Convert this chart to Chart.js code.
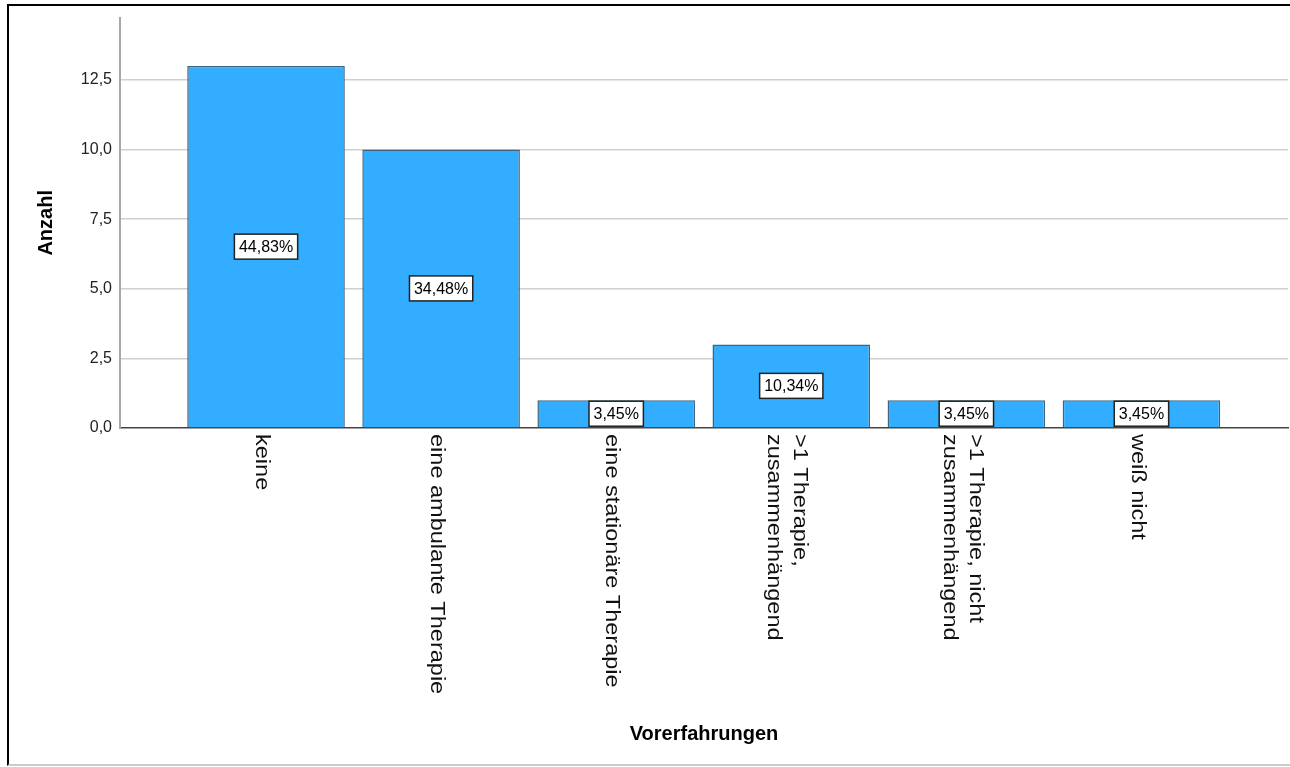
<!DOCTYPE html>
<html>
<head>
<meta charset="utf-8">
<script src="https://cdn.jsdelivr.net/npm/chart.js@4.4.1/dist/chart.umd.min.js"></script>
<style>
  html, body { margin: 0; padding: 0; background: #fff; }
  #frame {
    position: absolute; left: 7px; top: 4px; width: 1290px; height: 758px;
    border-left: 2px solid #000; border-top: 2px solid #000; border-bottom: 2px solid #ccc;
  }
  #wrap { position: absolute; left: 0; top: 0; width: 1290px; height: 767px; }
</style>
</head>
<body>
<div id="frame"></div>
<div id="wrap"><canvas id="chart" width="1290" height="767"></canvas></div>
<script>
// Data
const categories = [
    ['keine'],
    ['eine ambulante Therapie'],
    ['eine stationäre Therapie'],
    ['>1 Therapie,', 'zusammenhängend'],
    ['>1 Therapie, nicht', 'zusammenhängend'],
    ['weiß nicht']
];
const counts = [13, 10, 1, 3, 1, 1];
const percentLabels = ['44,83%', '34,48%', '3,45%', '10,34%', '3,45%', '3,45%'];
const yTicks = [0, 2.5, 5, 7.5, 10, 12.5];

const fontFamily = '"Liberation Sans", Arial, sans-serif';
const barColor = '#33adff';
const barBorder = '#3d6580';

// category labels, rotated clockwise and hanging below the axis
const xLabelPlugin = {
    id: 'xLabels',
    afterDraw(chart) {
        const { ctx, chartArea } = chart;
        const xScale = chart.scales.x;
        ctx.save();
        ctx.font = '21px ' + fontFamily;
        ctx.fillStyle = '#111';
        ctx.textAlign = 'left';
        ctx.textBaseline = 'middle';
        categories.forEach((lines, i) => {
            const px = xScale.getPixelForValue(i);
            ctx.save();
            ctx.translate(px - 4, chartArea.bottom + 6);
            ctx.rotate(Math.PI / 2);
            ctx.scale(1.12, 1); // the original text is a little wider
            lines.forEach((line, j) => {
                ctx.fillText(line, 0, (j - (lines.length - 1) / 2) * 26);
            });
            ctx.restore();
        });
        ctx.restore();
    }
};

// percentage boxes in the middle of each bar
const boxLabelPlugin = {
    id: 'boxLabels',
    afterDatasetsDraw(chart) {
        const { ctx } = chart;
        const bars = chart.getDatasetMeta(0).data;
        ctx.save();
        ctx.font = '16px ' + fontFamily;
        ctx.textAlign = 'center';
        ctx.textBaseline = 'middle';
        bars.forEach((bar, i) => {
            const text = percentLabels[i];
            const cy = (bar.y + bar.base) / 2;
            const w = ctx.measureText(text).width + 9;
            const h = 25;
            ctx.fillStyle = '#fff';
            ctx.fillRect(bar.x - w / 2, cy - h / 2, w, h);
            ctx.lineWidth = 1.5;
            ctx.strokeStyle = '#222';
            ctx.strokeRect(bar.x - w / 2, cy - h / 2, w, h);
            ctx.fillStyle = '#000';
            ctx.fillText(text, bar.x, cy + 1);
        });
        ctx.restore();
    }
};

new Chart(document.getElementById('chart'), {
    type: 'bar',
    data: {
        datasets: [{
            label: 'Anzahl',
            data: counts.map((v, i) => ({ x: i, y: v })),
            backgroundColor: barColor,
            borderColor: barBorder,
            borderWidth: 1.5,
            barPercentage: 0.9,
            categoryPercentage: 1
        }]
    },
    options: {
        responsive: false,
        devicePixelRatio: 1,
        animation: false,
        layout: { padding: { top: 13, right: 2, left: 0, bottom: 0 } },
        plugins: {
            legend: { display: false },
            tooltip: { enabled: false }
        },
        scales: {
            x: {
                type: 'linear',
                offset: false,
                min: -0.834,
                max: 5.837,
                afterBuildTicks: axis => { axis.ticks = categories.map((_, i) => ({ value: i })); },
                afterFit: axis => { axis.height = 339; },
                ticks: { display: false },
                grid: { display: false, offset: false },
                border: { color: '#444', width: 1.5 },
                title: {
                    display: true,
                    text: 'Vorerfahrungen',
                    color: '#000',
                    font: { family: fontFamily, size: 20, weight: 'bold' },
                    padding: { top: 0, bottom: 21 }
                }
            },
            y: {
                min: 0,
                max: 14.74,
                afterBuildTicks: axis => { axis.ticks = yTicks.map(v => ({ value: v })); },
                afterFit: axis => { axis.width = 120; },
                ticks: {
                    color: '#222',
                    padding: 8,
                    font: { family: fontFamily, size: 16 },
                    callback: v => v.toFixed(1).replace('.', ',')
                },
                grid: {
                    drawTicks: false,
                    lineWidth: 1.5,
                    color: c => c.tick && c.tick.value === 0 ? 'rgba(0,0,0,0)' : '#cfcfcf'
                },
                border: { color: '#a8a8a8', width: 2 },
                title: {
                    display: true,
                    text: 'Anzahl',
                    color: '#000',
                    font: { family: fontFamily, size: 20, weight: 'bold' },
                    padding: { top: 34, bottom: 0 }
                }
            }
        }
    },
    plugins: [xLabelPlugin, boxLabelPlugin]
});
</script>
</body>
</html>
